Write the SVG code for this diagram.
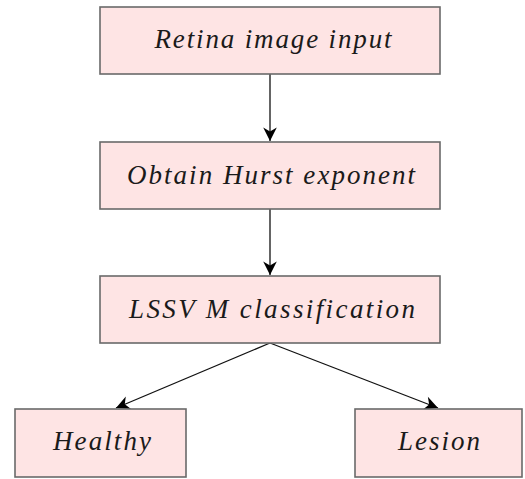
<svg xmlns="http://www.w3.org/2000/svg" width="525" height="479" viewBox="0 0 525 479">
  <style>
    .box { fill: #fee4e4; stroke: #6a6a6a; stroke-width: 1.6; }
    .lbl { font-family: "Liberation Serif", "DejaVu Serif", serif; font-style: italic; font-size: 27px; fill: #1a1a1a; text-anchor: middle; }
    .edge { stroke: #111; stroke-width: 1.3; fill: none; marker-end: url(#head); }
  </style>
  <defs>
    <marker id="head" markerUnits="userSpaceOnUse" viewBox="-15 -8 16 16" markerWidth="16" markerHeight="16" refX="0" refY="0" orient="auto">
      <path d="M0,0 L-13.5,-6.8 L-9.5,0 L-13.5,6.8 Z" fill="#000"/>
    </marker>
  </defs>
  <rect width="525" height="479" fill="#fff"/>

  <g id="connectors">
    <line class="edge" x1="270" y1="74" x2="270" y2="141"/>
    <line class="edge" x1="270" y1="209" x2="270" y2="275"/>
    <line class="edge" x1="270" y1="343" x2="116" y2="408"/>
    <line class="edge" x1="270" y1="343" x2="438" y2="408"/>
  </g>

  <g id="retina-input">
    <rect class="box" x="100" y="7" width="340" height="67"/>
    <text class="lbl" x="273" y="48" textLength="237" lengthAdjust="spacing">Retina image input</text>
  </g>

  <g id="hurst-exponent">
    <rect class="box" x="100" y="142" width="340" height="67"/>
    <text class="lbl" x="271" y="184" textLength="288" lengthAdjust="spacing">Obtain Hurst exponent</text>
  </g>

  <g id="lssvm">
    <rect class="box" x="100" y="276" width="340" height="67"/>
    <text class="lbl" x="272" y="318" textLength="286" lengthAdjust="spacing">LSSV M classification</text>
  </g>

  <g id="healthy">
    <rect class="box" x="15" y="409" width="171" height="68"/>
    <text class="lbl" x="102" y="450" textLength="98" lengthAdjust="spacing">Healthy</text>
  </g>

  <g id="lesion">
    <rect class="box" x="355" y="409" width="167" height="68"/>
    <text class="lbl" x="439" y="450" textLength="82" lengthAdjust="spacing">Lesion</text>
  </g>
</svg>
